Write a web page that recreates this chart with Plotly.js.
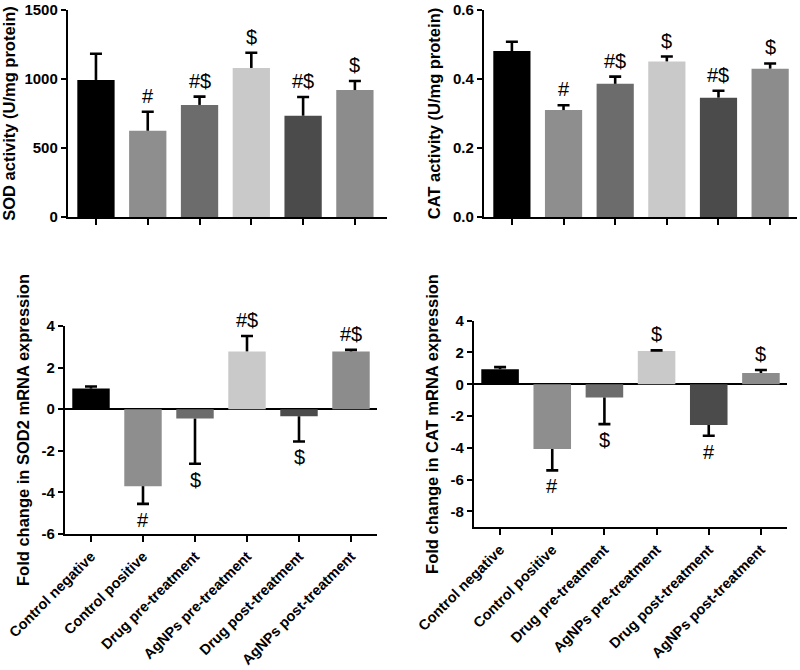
<!DOCTYPE html>
<html>
<head>
<meta charset="utf-8">
<script src="https://cdn.plot.ly/plotly-3.0.1.min.js"></script>
<style>html,body{margin:0;padding:0;background:#fff;}#chart{width:800px;height:670px;}</style>
</head>
<body>
<div id="chart"></div>
<script>
const categories = ["Control negative", "Control positive", "Drug pre-treatment", "AgNPs pre-treatment", "Drug post-treatment", "AgNPs post-treatment"];
const barColors = ["#000000", "#8e8e8e", "#6c6c6c", "#c9c9c9", "#4b4b4b", "#8c8c8c"];

const sodActivity = [993, 625, 812, 1080, 734, 920];
const sodActivityErr = [190, 138, 60, 110, 136, 65];
const sodActivitySig = ["", "#", "#$", "$", "#$", "$"];

const catActivity = [0.481, 0.310, 0.386, 0.451, 0.346, 0.430];
const catActivityErr = [0.027, 0.014, 0.021, 0.014, 0.020, 0.015];
const catActivitySig = ["", "#", "#$", "$", "#$", "$"];

const sod2Fold = [0.99, -3.70, -0.45, 2.78, -0.34, 2.78];
const sod2FoldErr = [0.10, 0.85, 2.17, 0.74, 1.21, 0.07];
const sod2FoldSig = ["", "#", "$", "#$", "$", "#$"];

const catFold = [0.94, -4.08, -0.84, 2.09, -2.57, 0.71];
const catFoldErr = [0.14, 1.34, 1.67, 0.04, 0.67, 0.19];
const catFoldSig = ["", "#", "$", "$", "#", "$"];

const FONT = "Arial, 'Liberation Sans', sans-serif";
const traces = [];
const annotations = [];

function panel(vals, errs, sig, n) {
  const xa = n === 1 ? "x" : "x" + n;
  const ya = n === 1 ? "y" : "y" + n;
  const tips = vals.map((v, i) => v >= 0 ? v + errs[i] : v - errs[i]);
  traces.push({
    type: "bar", x: categories, y: vals, xaxis: xa, yaxis: ya,
    width: 0.72,
    marker: {color: barColors, line: {width: 0}},
    error_y: {
      type: "data", symmetric: false,
      array: vals.map((v, i) => v >= 0 ? errs[i] : 0),
      arrayminus: vals.map((v, i) => v < 0 ? errs[i] : 0),
      color: "#000", thickness: 2.6, width: 0
    },
    hoverinfo: "skip", showlegend: false
  });
  traces.push({
    type: "scatter", mode: "markers", x: categories, y: tips, xaxis: xa, yaxis: ya,
    marker: {opacity: 0, size: 1},
    error_y: {type: "data", array: vals.map(() => 0), color: "#000", thickness: 2.6, width: 6},
    hoverinfo: "skip", showlegend: false
  });
  sig.forEach((s, i) => {
    if (!s) return;
    const up = vals[i] >= 0;
    annotations.push({
      xref: xa, yref: ya, x: categories[i], y: tips[i], text: s, showarrow: false,
      yanchor: up ? "bottom" : "top", yshift: up ? 3 : -3,
      font: {family: FONT, size: 20, color: "#000"}
    });
  });
}

panel(sodActivity, sodActivityErr, sodActivitySig, 1);
panel(catActivity, catActivityErr, catActivitySig, 2);
panel(sod2Fold, sod2FoldErr, sod2FoldSig, 3);
panel(catFold, catFoldErr, catFoldSig, 4);

const xTickFont = {family: FONT, size: 14.5, color: "#000", weight: "bold"};
const yTickFont = {family: FONT, size: 15, color: "#000", weight: "bold"};
const titleFont = {family: FONT, size: 16.5, color: "#000", weight: "bold"};

function xAxis(domain, range, yAnchor, labels) {
  return {
    domain: domain, range: range, anchor: yAnchor, type: "category",
    showline: true, linecolor: "#000", linewidth: 2.2, mirror: false,
    ticks: "outside", ticklen: 6, tickwidth: 2, tickcolor: "#000",
    showticklabels: labels, tickangle: -45, tickfont: xTickFont,
    showgrid: false, zeroline: false, fixedrange: true
  };
}
function yAxis(domain, range, xAnchor, tickvals, ticktext, title, zero) {
  return {
    domain: domain, range: range, anchor: xAnchor,
    tickvals: tickvals, ticktext: ticktext,
    showline: true, linecolor: "#000", linewidth: 2.2,
    ticks: "outside", ticklen: 5, tickwidth: 2, tickcolor: "#000",
    tickfont: yTickFont, showgrid: false,
    zeroline: zero, zerolinecolor: "#000", zerolinewidth: 2.2,
    title: {text: title, font: titleFont, standoff: 8}, fixedrange: true
  };
}

const layout = {
  width: 800, height: 670,
  margin: {l: 0, r: 0, t: 0, b: 0},
  paper_bgcolor: "#fff", plot_bgcolor: "rgba(0,0,0,0)",
  bargap: 0.28, showlegend: false,
  font: {family: FONT, color: "#000"},
  xaxis: xAxis([0.085, 0.48375], [-0.54, 5.62], "y", false),
  yaxis: yAxis([0.67612, 0.98507], [0, 1500], "x", [0, 500, 1000, 1500], ["0", "500", "1000", "1500"], "SOD activity (U/mg protein)", false),
  xaxis2: xAxis([0.605, 0.99625], [-0.54, 5.52], "y2", false),
  yaxis2: yAxis([0.67612, 0.98507], [0, 0.6], "x2", [0, 0.2, 0.4, 0.6], ["0.0", "0.2", "0.4", "0.6"], "CAT activity (U/mg protein)", false),
  xaxis3: xAxis([0.08125, 0.47125], [-0.5, 5.5], "y3", true),
  yaxis3: yAxis([0.20299, 0.51343], [-6, 4], "x3", [-6, -4, -2, 0, 2, 4], ["-6", "-4", "-2", "0", "2", "4"], "Fold change in SOD2 mRNA expression", true),
  xaxis4: xAxis([0.5925, 0.98375], [-0.5, 5.5], "y4", true),
  yaxis4: yAxis([0.21299, 0.52134], [-9, 4], "x4", [-8, -6, -4, -2, 0, 2, 4], ["-8", "-6", "-4", "-2", "0", "2", "4"], "Fold change in CAT mRNA expression", true),
  annotations: annotations
};

Plotly.newPlot("chart", traces, layout, {staticPlot: true, displayModeBar: false});
</script>
</body>
</html>
